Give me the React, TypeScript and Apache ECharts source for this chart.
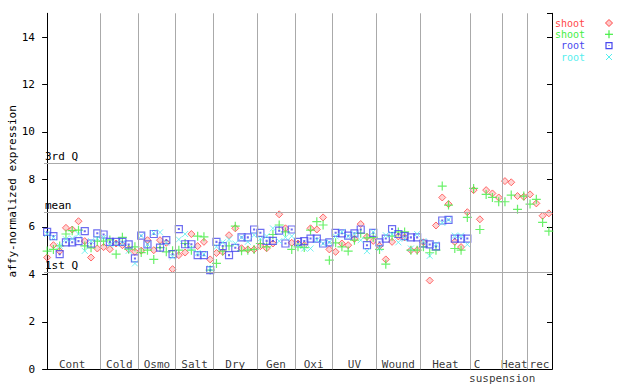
import React, { useEffect, useRef } from "react";
import * as echarts from "echarts";

const groupNames = ["Cont", "Cold", "Osmo", "Salt", "Dry", "Gen", "Oxi", "UV", "Wound", "Heat", "C", "Heat", "rec"];
const groupSizes = [9, 6, 6, 6, 7, 6, 6, 7, 7, 8, 5, 4, 4];

const shootRed = [
  4.71, 5.23, 4.98, 5.96, 5.89, 6.24, 5.40, 4.71, 5.09,
  5.15, 5.06, 5.30, 5.23, 5.06, 4.95,
  5.00, 5.44, 5.02, 5.44, 5.33, 4.22,
  4.81, 4.92, 5.70, 5.19, 5.37, 4.63,
  4.90, 4.95, 5.65, 5.94, 5.10, 5.05, 5.05,
  5.19, 5.10, 5.30, 6.53, 5.94, 5.33,
  5.30, 5.23, 5.94, 5.89, 6.40, 5.05,
  4.95, 5.30, 5.23, 5.50, 6.12, 5.58, 5.41,
  5.20, 4.63, 5.37, 5.60, 5.56, 5.02, 5.02,
  5.35, 3.74, 6.06, 7.24, 6.96, 5.37, 5.15, 6.62,
  7.55, 6.32, 7.55, 7.41, 7.24,
  7.93, 7.88, 7.30, 7.27,
  7.37, 6.99, 6.47, 6.57,
];
const shootGreen = [
  4.98, 5.05, 5.20, 5.70, 5.84, 5.86, 5.20, 5.12, 5.40,
  5.40, 5.45, 4.85, 5.56, 5.06, 5.16,
  4.92, 5.02, 4.63, 5.13, 4.95, 5.00,
  5.02, 5.30, 5.02, 5.61, 5.58, 4.18,
  4.46, 4.98, 5.20, 6.03, 4.99, 5.02, 5.05,
  5.30, 5.16, 5.68, 6.08, 5.79, 5.05,
  5.16, 5.13, 5.86, 6.22, 6.08, 4.60,
  5.33, 5.16, 4.98, 5.44, 5.73, 5.54, 5.56,
  5.05, 4.43, 5.61, 5.79, 5.79, 5.02, 5.02,
  5.16, 4.91, 5.02, 7.72, 6.92, 5.09, 5.02, 6.40,
  7.62, 5.89, 7.37, 7.24, 7.06,
  7.06, 7.34, 6.74, 7.30,
  6.96, 7.16, 6.19, 5.82,
];
const rootBlue = [
  5.79, 5.61, 4.85, 5.35, 5.35, 5.40, 5.82, 5.30, 5.73,
  5.68, 5.37, 5.37, 5.37, 5.26, 4.67,
  5.63, 5.26, 5.70, 5.13, 5.44, 4.85,
  5.91, 5.27, 5.27, 4.81, 4.81, 4.18,
  5.37, 5.19, 4.81, 5.12, 5.56, 5.56, 5.89,
  5.75, 5.41, 5.41, 5.84, 5.30, 5.89,
  5.37, 5.40, 5.51, 5.51, 5.30, 5.35,
  5.75, 5.73, 5.63, 5.73, 5.89, 5.23, 5.75,
  5.35, 5.51, 5.91, 5.70, 5.61, 5.56, 5.56,
  5.30, 5.26, 5.18, 6.27, 6.30, 5.51, 5.51, 5.51,
  null, null, null, null, null,
  null, null, null, null,
  null, null, null, null,
];
const rootCyan = [
  5.70, 5.55, 5.20, 5.48, 5.51, 5.70, 4.99, 5.40, 5.51,
  5.55, 5.25, 5.30, 5.30, 4.99, 4.46,
  5.63, 5.26, 5.75, 5.77, 5.33, 4.74,
  5.47, 5.70, 5.10, 4.90, 4.85, 4.25,
  5.16, 5.35, 5.47, 5.30, 5.56, 5.37, 5.65,
  5.50, 5.61, 5.94, 5.40, 5.56, 5.61,
  5.20, 5.09, 5.09, 5.45, 5.30, 5.35,
  5.60, 5.79, 5.60, 5.70, 5.44, 4.98, 5.79,
  5.10, 5.65, 5.70, 5.35, 5.50, 5.09, 5.70,
  5.40, 4.78, 5.26, 6.17, 6.30, 5.63, 5.63, 5.26,
  null, null, null, null, null,
  null, null, null, null,
  null, null, null, null,
];

const refLines = [
  { name: "3rd Q", value: 8.68 },
  { name: "mean", value: 6.61 },
  { name: "1st Q", value: 4.08 },
];

const yTicks = { min: 0, max: 15, interval: 2 };

const RED = "#ff4848";
const GREEN = "#44ee44";
const BLUE = "#4848ee";
const CYAN = "#55eeee";
const FONT = "DejaVu Sans Mono";

function toPoints(arr: (number | null)[]) {
  const out: [number, number][] = [];
  arr.forEach((v, i) => {
    if (v !== null && v !== undefined) out.push([i, v]);
  });
  return out;
}

export default function App() {
  const ref = useRef<HTMLDivElement>(null);
  useEffect(() => {
    document.body.style.margin = "0";
    const chart = echarts.init(ref.current!, undefined, { renderer: "svg" });
    const total = groupSizes.reduce((a, b) => a + b, 0);
    const boundaries: number[] = [];
    const centers: number[] = [];
    let acc = 0;
    groupSizes.forEach((s, gi) => {
      centers.push(acc + s / 2 - 0.5);
      acc += s;
      if (gi < groupSizes.length - 1) boundaries.push(acc - 0.5);
    });

    const labelData: any[] = [];
    groupNames.forEach((n, gi) => {
      if (n === "C") {
        labelData.push({ value: [centers[gi], 0], label: { formatter: "C", offset: [-9, -5] } });
        labelData.push({ value: [centers[gi], 0], label: { formatter: "suspension", offset: [16, 9] } });
      } else {
        labelData.push({ value: [centers[gi], 0], label: { formatter: n, offset: [0, -5] } });
      }
    });

    const markData: any[] = [
      ...boundaries.map((b) => ({ xAxis: b, label: { show: false } })),
      ...refLines.map((r) => ({
        yAxis: r.value,
        name: r.name,
        label: {
          show: true,
          formatter: r.name,
          position: "insideStartTop",
          distance: [1, 1],
          color: "#000",
          fontFamily: FONT,
          fontSize: 11,
        },
      })),
    ];

    const sym = (path: string) => "path://" + path;
    const legendFont = `10px ${FONT}`;

    chart.setOption({
      animation: false,
      backgroundColor: "#fff",
      grid: { left: 44, right: 88, top: 13.3, bottom: 14.7, outerBoundsMode: "none", containLabel: false },
      xAxis: {
        type: "value",
        min: -0.5,
        max: total - 0.5,
        axisLine: { show: true, lineStyle: { color: "#000", width: 1 } },
        axisTick: { show: false },
        axisLabel: { show: false },
        splitLine: { show: false },
      },
      yAxis: [
        {
          type: "value",
          min: yTicks.min,
          max: yTicks.max,
          interval: yTicks.interval,
          name: "affy-normalized expression",
          nameLocation: "middle",
          nameGap: 26,
          nameMoveOverlap: false,
          nameTextStyle: { fontFamily: FONT, fontSize: 11, color: "#000" },
          axisLine: { show: true, lineStyle: { color: "#000", width: 1 } },
          axisTick: { show: true, length: 5, lineStyle: { color: "#000" } },
          axisLabel: { fontFamily: FONT, fontSize: 11, color: "#000", margin: 9, showMaxLabel: false },
          splitLine: { show: false },
        },
        {
          type: "value",
          position: "right",
          min: yTicks.min,
          max: yTicks.max,
          interval: yTicks.interval,
          axisLine: { show: true, lineStyle: { color: "#000", width: 1 } },
          axisTick: { show: true, inside: true, length: 5, lineStyle: { color: "#000" } },
          axisLabel: { show: false },
          splitLine: { show: false },
        },
      ],
      series: [
        {
          type: "scatter",
          name: "lines",
          data: [],
          silent: true,
          markLine: {
            silent: true,
            symbol: ["none", "none"],
            lineStyle: { color: "#aaaaaa", width: 1, type: "solid" },
            data: markData,
          },
        },
        {
          type: "scatter",
          name: "shoot",
          data: toPoints(shootRed),
          symbol: "diamond",
          symbolSize: 7,
          itemStyle: { color: "rgba(255,72,72,0.3)", borderColor: RED, borderWidth: 1 },
        },
        {
          type: "scatter",
          name: "shoot2",
          data: toPoints(shootGreen),
          symbol: sym("M0,5H10M5,0V10"),
          symbolSize: 9,
          itemStyle: { color: "none", borderColor: GREEN, borderWidth: 1.2 },
        },
        {
          type: "scatter",
          name: "root",
          data: toPoints(rootBlue),
          symbol: sym("M0,0H8V8H0Z M3.5,3.5H4.5V4.5H3.5Z"),
          symbolSize: 7,
          itemStyle: { color: "none", borderColor: BLUE, borderWidth: 1.2 },
        },
        {
          type: "scatter",
          name: "root2",
          data: toPoints(rootCyan),
          symbol: sym("M0,0L8,8M8,0L0,8"),
          symbolSize: 6,
          itemStyle: { color: "none", borderColor: CYAN, borderWidth: 1 },
        },
        {
          type: "scatter",
          name: "groupLabels",
          data: labelData,
          symbolSize: 1,
          silent: true,
          clip: false,
          itemStyle: { color: "rgba(0,0,0,0)" },
          label: {
            show: true,
            position: "inside",
            color: "#000",
            fontFamily: FONT,
            fontSize: 11,
          },
        },
      ],
      graphic: [
        { type: "text", x: 585, y: 23, style: { text: "shoot", align: "right", verticalAlign: "middle", fill: RED, font: legendFont } },
        { type: "text", x: 585, y: 34.3, style: { text: "shoot", align: "right", verticalAlign: "middle", fill: GREEN, font: legendFont } },
        { type: "text", x: 585, y: 45.6, style: { text: "root", align: "right", verticalAlign: "middle", fill: BLUE, font: legendFont } },
        { type: "text", x: 585, y: 57, style: { text: "root", align: "right", verticalAlign: "middle", fill: CYAN, font: legendFont } },
        { type: "polygon", shape: { points: [[609, 19.5], [612.5, 23], [609, 26.5], [605.5, 23]] }, style: { fill: "rgba(255,72,72,0.3)", stroke: RED, lineWidth: 1 } },
        { type: "line", shape: { x1: 605, y1: 34.3, x2: 613, y2: 34.3 }, style: { stroke: GREEN, lineWidth: 1.2 } },
        { type: "line", shape: { x1: 609, y1: 30.3, x2: 609, y2: 38.3 }, style: { stroke: GREEN, lineWidth: 1.2 } },
        { type: "rect", shape: { x: 606, y: 42.6, width: 6, height: 6 }, style: { fill: "none", stroke: BLUE, lineWidth: 1.2 } },
        { type: "rect", shape: { x: 608.5, y: 45.1, width: 1, height: 1 }, style: { fill: BLUE } },
        { type: "line", shape: { x1: 606, y1: 54, x2: 612, y2: 60 }, style: { stroke: CYAN, lineWidth: 1 } },
        { type: "line", shape: { x1: 612, y1: 54, x2: 606, y2: 60 }, style: { stroke: CYAN, lineWidth: 1 } },
      ],
    });
    return () => chart.dispose();
  }, []);
  return <div ref={ref} style={{ width: 640, height: 384 }} />;
}
